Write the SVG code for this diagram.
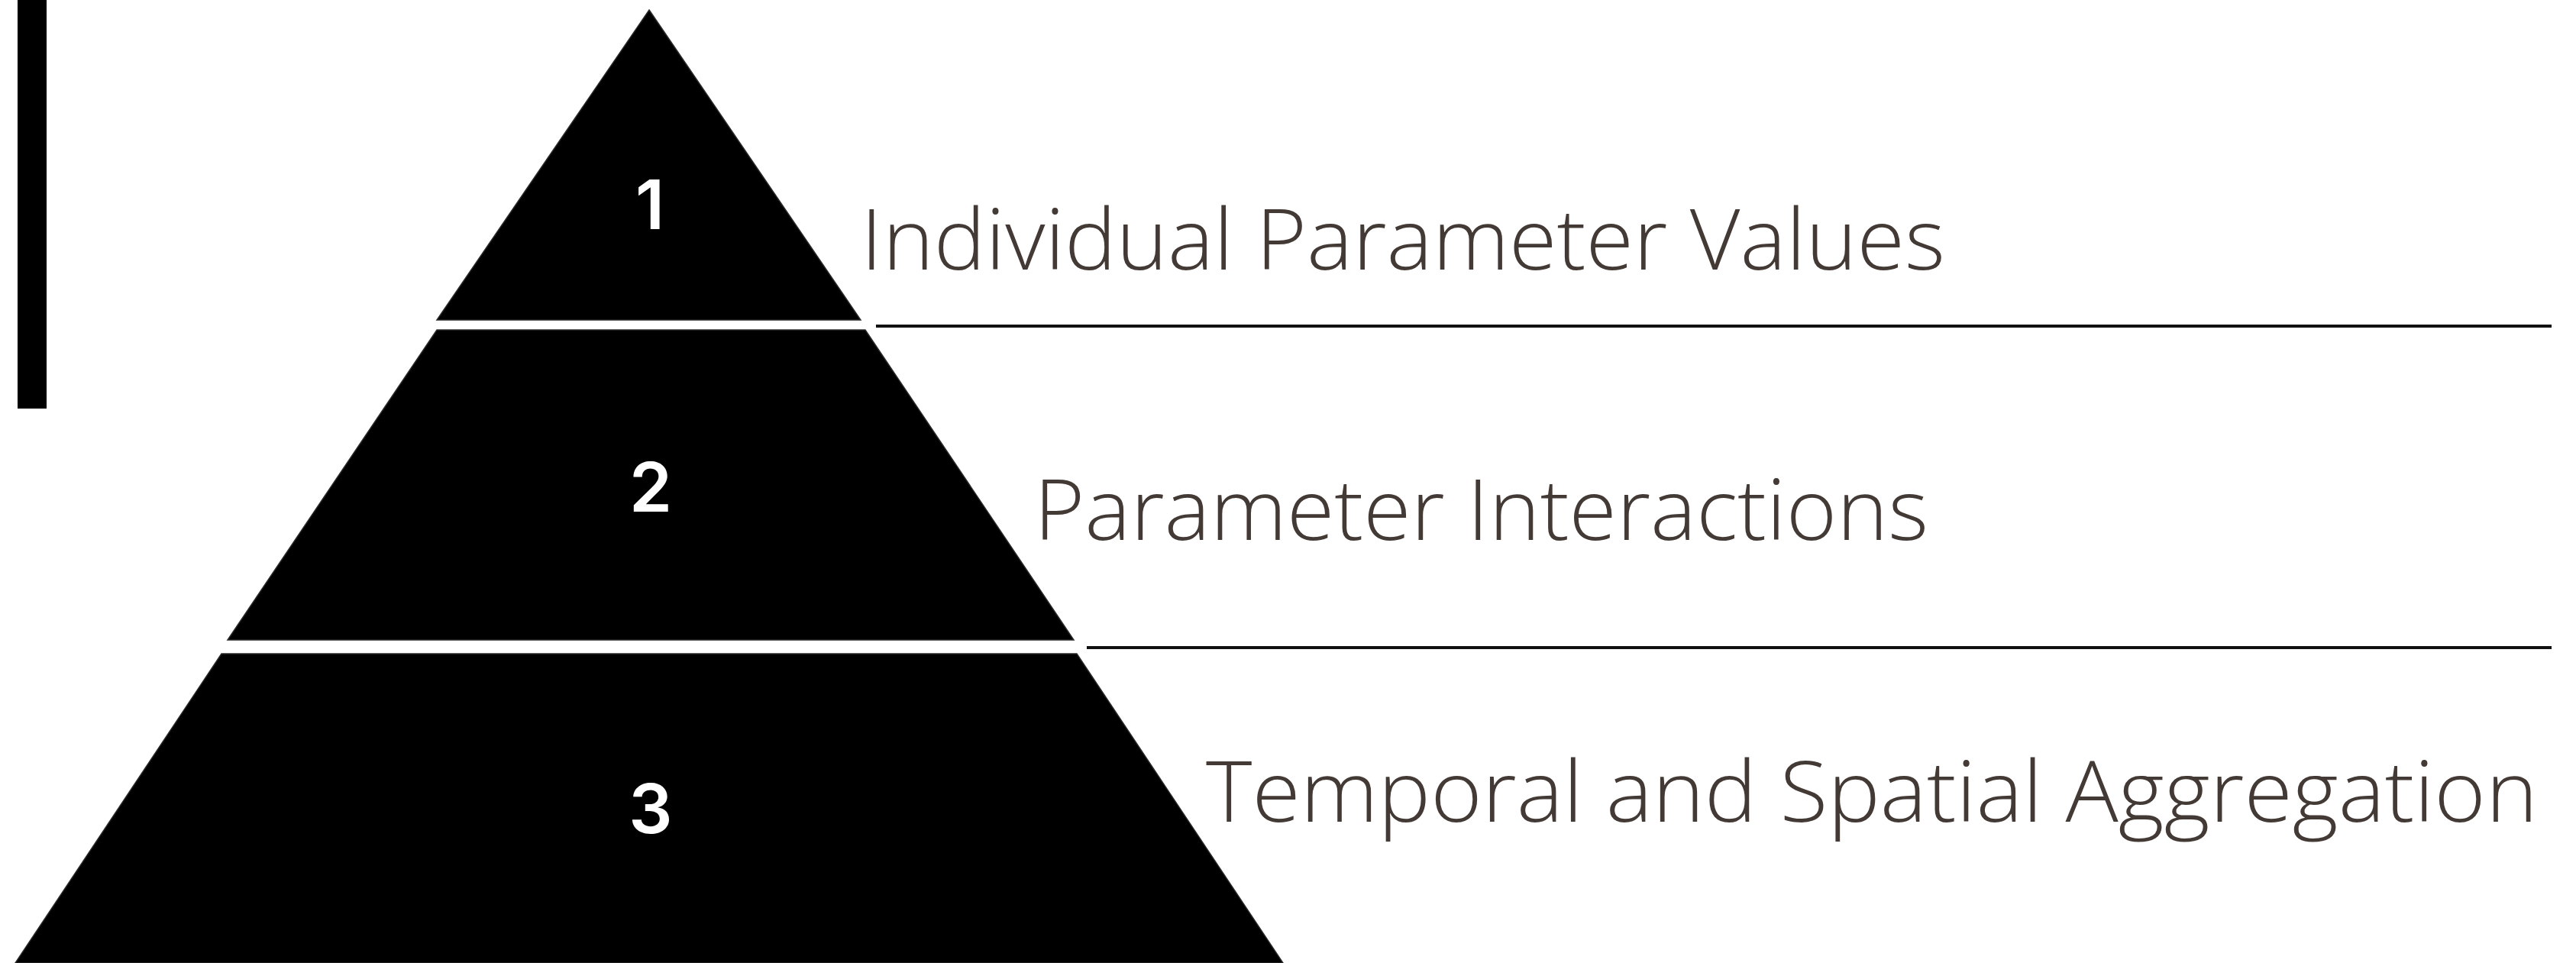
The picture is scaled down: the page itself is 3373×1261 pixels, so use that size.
<svg xmlns="http://www.w3.org/2000/svg" width="3373" height="1261" viewBox="0 0 3373 1261">
  <style>
    .tier { fill: #000000; stroke: #2a2a2a; stroke-width: 1.5; }
    .num { fill: #ffffff; font-family: Inter, "Liberation Sans", sans-serif; font-weight: 600; font-size: 90px; text-anchor: middle; }
    .label { fill: #433a36; font-family: "Open Sans", "Liberation Sans", sans-serif; font-weight: 350; font-size: 110px; }
    .divider { stroke: #111111; stroke-width: 4; fill: none; }
  </style>
  <rect id="side-bar" x="23" y="0" width="38" height="535" fill="#000000"/>
  <g id="tier1">
    <polygon class="tier" points="850,13 1127,419 572,419"/>
    <text class="num" x="851" y="300">1</text>
    <text class="label" x="1127" y="353" textLength="1420" lengthAdjust="spacingAndGlyphs">Individual Parameter Values</text>
  </g>
  <g id="tier2">
    <polygon class="tier" points="572,432 1133,432 1406,838 298,838"/>
    <text class="num" x="852" y="670">2</text>
    <text class="label" x="1354" y="707" textLength="1171" lengthAdjust="spacingAndGlyphs">Parameter Interactions</text>
  </g>
  <g id="tier3">
    <polygon class="tier" points="290,856 1410,856 1680,1261 20,1261"/>
    <text class="num" x="852" y="1091">3</text>
    <text class="label" x="1579" y="1076" textLength="1744" lengthAdjust="spacingAndGlyphs">Temporal and Spatial Aggregation</text>
  </g>
  <g id="connectors">
    <line class="divider" x1="1147" y1="427" x2="3341" y2="427"/>
    <line class="divider" x1="1423" y1="848" x2="3341" y2="848"/>
  </g>
</svg>
